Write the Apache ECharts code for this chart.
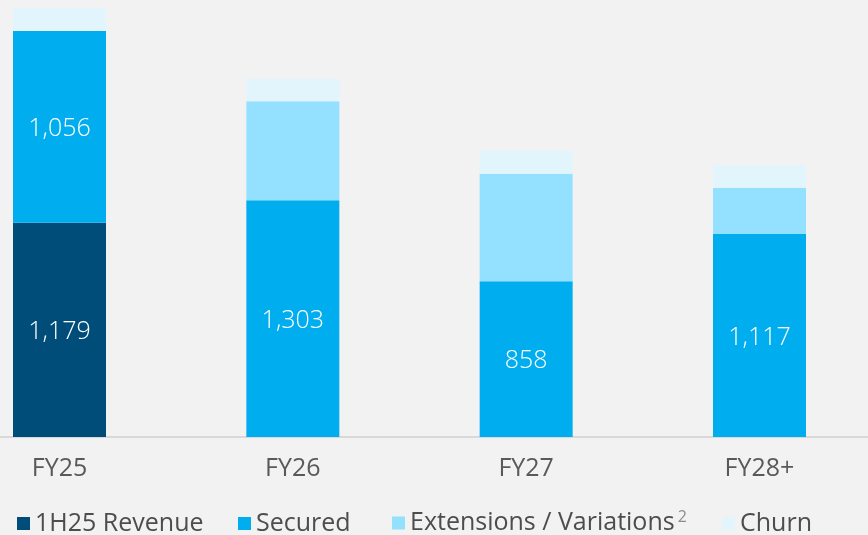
<!DOCTYPE html>
<html>
<head>
<meta charset="utf-8">
<script src="https://cdn.jsdelivr.net/npm/echarts@6/dist/echarts.min.js"></script>
<style>
  html, body { margin: 0; padding: 0; background: #f2f2f2; }
  #chart { width: 868px; height: 535px; }
</style>
</head>
<body>
<div id="chart"></div>
<script>
// categories and values (A$m)
const years = ['FY25', 'FY26', 'FY27', 'FY28+'];
const revenue1H25 = [1179, '-', '-', '-'];
const secured = [1056, 1303, 858, 1117];
const extensions = ['-', 545, 591, 255];
const churn = [127, 123, 127, 125];

const seriesNames = ['1H25 Revenue', 'Secured', 'Extensions / Variations', 'Churn'];
const colors = ['#004d7a', '#00aeef', '#94e1ff', '#e2f5fc'];

const chart = echarts.init(document.getElementById('chart'));

const fontFamily = '"Open Sans", "Liberation Sans", sans-serif';

const valueLabel = {
  show: true,
  position: 'inside',
  offset: [0, 2],
  color: '#ffffff',
  fontSize: 25,
  fontWeight: 300,
  fontFamily: fontFamily,
  formatter: p => p.value.toLocaleString('en-US')
};

// one legend per item so each can sit where it does in the picture
const legendLeft = [17, 238, 392, 722];
const legendTop = [511, 511, 509, 511];
const legends = seriesNames.map((name, i) => ({
  data: [name],
  left: legendLeft[i],
  top: legendTop[i],
  padding: 0,
  itemWidth: 13,
  itemHeight: 13,
  itemGap: 5,
  icon: 'rect',
  textStyle: {
    color: '#4d4d4d',
    fontSize: 25,
    fontFamily: fontFamily,
    rich: {
      sup: { fontSize: 16, color: '#8c8c8c', verticalAlign: 'top', padding: [0, 0, 12, 3] }
    }
  },
  formatter: n => n === 'Extensions / Variations' ? n + '{sup|2}' : n
}));

function bar(i, data, label) {
  return {
    name: seriesNames[i],
    type: 'bar',
    stack: 'total',
    barWidth: 93,
    clip: false,
    data: data,
    itemStyle: { color: colors[i] },
    label: label || { show: false }
  };
}

const option = {
  backgroundColor: '#f2f2f2',
  animation: false,
  legend: legends,
  grid: [
    // bars: categories sit on the ticks, first and last at the grid edges
    { left: 59.5, right: 108.5, top: 1, bottom: 98 },
    // full-width baseline
    { left: 0, right: 0, top: 1, bottom: 98 }
  ],
  xAxis: [
    {
      type: 'category',
      gridIndex: 0,
      data: years,
      boundaryGap: false,
      axisLine: { show: false },
      axisTick: { show: false },
      axisLabel: {
        color: '#595959',
        fontSize: 25,
        fontFamily: fontFamily,
        margin: 19
      }
    },
    {
      type: 'category',
      gridIndex: 1,
      data: [''],
      axisLine: { lineStyle: { color: '#d9d9d9', width: 2 } },
      axisTick: { show: false },
      axisLabel: { show: false }
    }
  ],
  yAxis: [
    { type: 'value', gridIndex: 0, min: 0, max: 2400, show: false },
    { type: 'value', gridIndex: 1, min: 0, max: 2400, show: false }
  ],
  series: [
    bar(0, revenue1H25, valueLabel),
    bar(1, secured, valueLabel),
    bar(2, extensions),
    bar(3, churn)
  ]
};

chart.setOption(option);
</script>
</body>
</html>
